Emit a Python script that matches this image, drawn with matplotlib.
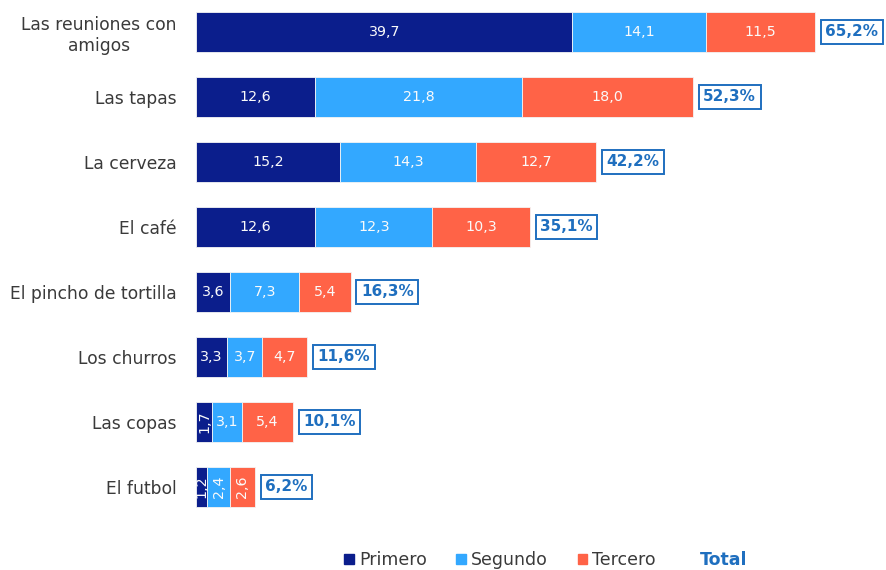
import numpy as np
import matplotlib.pyplot as plt
from matplotlib.patches import Patch

categorias = ['Las reuniones con\namigos', 'Las tapas', 'La cerveza', 'El café',
              'El pincho de tortilla', 'Los churros', 'Las copas', 'El futbol']
primero = [39.7, 12.6, 15.2, 12.6, 3.6, 3.3, 1.7, 1.2]
segundo = [14.1, 21.8, 14.3, 12.3, 7.3, 3.7, 3.1, 2.4]
tercero = [11.5, 18.0, 12.7, 10.3, 5.4, 4.7, 5.4, 2.6]
total = [65.2, 52.3, 42.2, 35.1, 16.3, 11.6, 10.1, 6.2]

c_prim = '#0b1e8c'
c_seg = '#33a8ff'
c_ter = '#ff6347'
c_tot = '#1f6fbf'

plt.rcParams['font.family'] = ['DejaVu Sans']
fig = plt.figure(figsize=(8.86, 5.70), dpi=100)
ax = fig.add_axes([196 / 886, 50 / 570, 690 / 886, 520 / 570])

idx = np.arange(len(categorias))
h = 0.615
series = [(primero, c_prim, 'Primero'), (segundo, c_seg, 'Segundo'), (tercero, c_ter, 'Tercero')]
left = np.zeros(len(categorias))
for vals, col, nombre in series:
    ax.barh(idx, vals, h, left=left, color=col, label=nombre, edgecolor='#f4f4f4', lw=0.6)
    for i, v in enumerate(vals):
        txt = ('%.1f' % v).replace('.', ',')
        rot = 90 if v < 3 else 0  # las barras estrechas llevan el texto vertical
        ax.text(left[i] + v / 2, i, txt, ha='center', va='center', color='#fafafa',
                fontsize=10.3, rotation=rot)
    left += np.array(vals)

for i, t in enumerate(total):
    txt = ('%.1f%%' % t).replace('.', ',')
    ax.text(left[i] + 1.1, i, txt, ha='left', va='center', color=c_tot, fontsize=11,
            fontweight='bold',
            bbox=dict(boxstyle='square,pad=0.3', fc='white', ec=c_tot, lw=1.4))

ax.set_xlim(0, 690 / 9.48)
ax.set_ylim(7.508, -0.492)
ax.set_yticks(idx)
ax.set_yticklabels(categorias, fontsize=12.3, multialignment='center', color='#3a3a3a')
ax.tick_params(axis='y', length=0, pad=14)
ax.set_xticks([])
for s in ax.spines.values():
    s.set_visible(False)

handles = [Patch(color=c_prim), Patch(color=c_seg), Patch(color=c_ter), Patch(color='none')]
leg = fig.legend(handles, ['Primero', 'Segundo', 'Tercero', 'Total'], ncol=4,
                 loc='center', bbox_to_anchor=(546 / 886, 1 - 560 / 570), frameon=False,
                 fontsize=12.5, handlelength=0.55, handleheight=0.55, handletextpad=0.3,
                 columnspacing=1.7)
for t in leg.get_texts():
    t.set_color('#3a3a3a')
leg.get_texts()[3].set_color(c_tot)
leg.get_texts()[3].set_fontweight('bold')

fig.savefig('out.png', dpi=100)
